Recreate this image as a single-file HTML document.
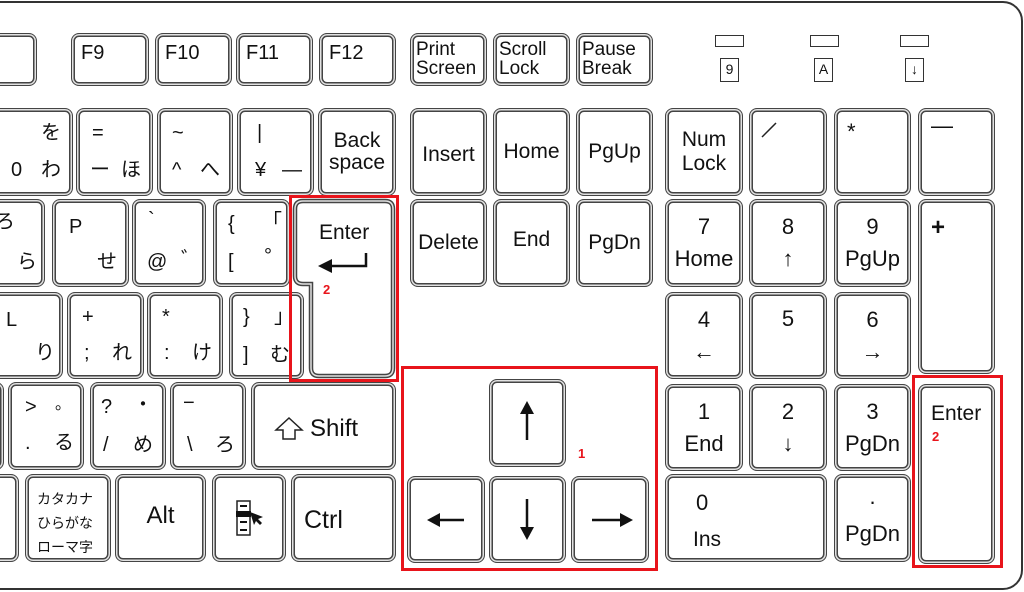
<!DOCTYPE html>
<html><head><meta charset="utf-8"><style>
html,body{margin:0;padding:0;background:#fff;}
#w{position:relative;width:1024px;height:592px;overflow:hidden;background:#fff;font-family:"Liberation Sans","Noto Sans CJK JP",sans-serif;color:#111;}
.frame{position:absolute;left:-30px;top:1px;width:1049px;height:585px;border:2px solid #333;border-radius:20px;}
.k{position:absolute;box-sizing:border-box;border:1.5px solid #444;border-radius:8px;background:#fff;box-shadow:inset 0 0 0 1.5px #e2e2e2,inset 0 0 0 3px #444;}
.c{display:flex;align-items:center;justify-content:center;flex-direction:column;text-align:center;line-height:1.15;}
.t{position:absolute;font-size:20px;line-height:1;white-space:nowrap;}
.red{position:absolute;box-sizing:border-box;border:3.5px solid #e8141b;}
.lab{position:absolute;color:#e8141b;font-weight:bold;font-size:13px;}
.led{position:absolute;box-sizing:border-box;border:1.5px solid #333;height:12px;width:29px;}
.lb{position:absolute;box-sizing:border-box;border:1.5px solid #333;width:19px;height:24px;font-size:14px;text-align:center;line-height:21px;}
</style></head><body><div id="w">
<div class="frame"></div>

<!-- F row -->
<div class="k" style="left:-20px;top:33px;width:57px;height:53px"></div>
<div class="k" style="left:71px;top:33px;width:78px;height:53px"><span class="t" style="left:9px;top:9px">F9</span></div>
<div class="k" style="left:155px;top:33px;width:77px;height:53px"><span class="t" style="left:9px;top:9px">F10</span></div>
<div class="k" style="left:236px;top:33px;width:77px;height:53px"><span class="t" style="left:9px;top:9px">F11</span></div>
<div class="k" style="left:319px;top:33px;width:77px;height:53px"><span class="t" style="left:9px;top:9px">F12</span></div>
<div class="k" style="left:410px;top:33px;width:77px;height:53px"><span class="t" style="left:5px;top:6px;font-size:19px;line-height:19px">Print<br>Screen</span></div>
<div class="k" style="left:493px;top:33px;width:77px;height:53px"><span class="t" style="left:5px;top:6px;font-size:19px;line-height:19px">Scroll<br>Lock</span></div>
<div class="k" style="left:576px;top:33px;width:77px;height:53px"><span class="t" style="left:5px;top:6px;font-size:19px;line-height:19px">Pause<br>Break</span></div>

<!-- LEDs -->
<div class="led" style="left:715px;top:35px"></div><div class="lb" style="left:720px;top:58px">9</div>
<div class="led" style="left:810px;top:35px"></div><div class="lb" style="left:814px;top:58px">A</div>
<div class="led" style="left:900px;top:35px"></div><div class="lb" style="left:905px;top:58px">↓</div>

<!-- number row -->
<div class="k" style="left:-20px;top:108px;width:93px;height:88px"><span class="t" style="left:60px;top:14px">を</span><span class="t" style="left:30px;top:51px">0</span><span class="t" style="left:60px;top:51px">わ</span></div>
<div class="k" style="left:76px;top:108px;width:77px;height:88px"><span class="t" style="left:15px;top:14px">=</span><span class="t" style="left:13px;top:51px">ー</span><span class="t" style="left:44px;top:51px">ほ</span></div>
<div class="k" style="left:157px;top:108px;width:76px;height:88px"><span class="t" style="left:14px;top:14px">~</span><span class="t" style="left:14px;top:51px">^</span><span class="t" style="left:42px;top:51px">へ</span></div>
<div class="k" style="left:237px;top:108px;width:77px;height:88px"><span class="t" style="left:19px;top:14px">|</span><span class="t" style="left:17px;top:51px">¥</span><span class="t" style="left:44px;top:51px">—</span></div>
<div class="k c" style="left:318px;top:108px;width:78px;height:88px;font-size:21px;line-height:22px">Back<br>space</div>
<div class="k c" style="left:410px;top:108px;width:77px;height:88px;font-size:21px;padding-top:6px">Insert</div>
<div class="k c" style="left:493px;top:108px;width:77px;height:88px;font-size:21px">Home</div>
<div class="k c" style="left:576px;top:108px;width:77px;height:88px;font-size:21px">PgUp</div>
<div class="k c" style="left:665px;top:108px;width:78px;height:88px;font-size:21px;line-height:24px">Num<br>Lock</div>
<div class="k" style="left:749px;top:108px;width:78px;height:88px"><svg style="position:absolute;left:10px;top:10px" width="20" height="20"><line x1="2" y1="18" x2="16" y2="4" stroke="#222" stroke-width="1.5"/></svg></div>
<div class="k" style="left:834px;top:108px;width:77px;height:88px"><span class="t" style="left:12px;top:12px;font-size:22px">*</span></div>
<div class="k" style="left:918px;top:108px;width:77px;height:88px"><span class="t" style="left:12px;top:6px;font-size:22px">—</span></div>

<!-- row 2 -->
<div class="k" style="left:-20px;top:199px;width:65px;height:88px"><span class="t" style="left:36px;top:52px">ら</span><span class="t" style="left:14px;top:12px">ろ</span></div>
<div class="k" style="left:52px;top:199px;width:77px;height:88px"><span class="t" style="left:16px;top:17px">P</span><span class="t" style="left:44px;top:52px">せ</span></div>
<div class="k" style="left:132px;top:199px;width:74px;height:88px"><span class="t" style="left:15px;top:10px">`</span><span class="t" style="left:14px;top:52px">@</span><span class="t" style="left:48px;top:50px">゛</span></div>
<div class="k" style="left:213px;top:199px;width:77px;height:88px"><span class="t" style="left:14px;top:14px">{</span><span class="t" style="left:48px;top:12px">「</span><span class="t" style="left:14px;top:52px">[</span><span class="t" style="left:50px;top:46px">°</span></div>
<div class="k c" style="left:410px;top:199px;width:77px;height:88px;font-size:21px">Delete</div>
<div class="k c" style="left:493px;top:199px;width:77px;height:88px;font-size:21px;padding-bottom:6px">End</div>
<div class="k c" style="left:576px;top:199px;width:77px;height:88px;font-size:21px">PgDn</div>
<div class="k c" style="left:665px;top:199px;width:78px;height:88px;font-size:22px;line-height:32px">7<br>Home</div>
<div class="k c" style="left:749px;top:199px;width:78px;height:88px;font-size:22px;line-height:32px">8<br>↑</div>
<div class="k c" style="left:834px;top:199px;width:77px;height:88px;font-size:22px;line-height:32px">9<br>PgUp</div>
<div class="k" style="left:918px;top:199px;width:77px;height:175px"><span class="t" style="left:12px;top:16px;font-size:24px;font-weight:bold">+</span></div>

<!-- Enter L -->
<svg style="position:absolute;left:0;top:0" width="1024" height="592">
<path d="M303,201 L385,201 Q393,201 393,209 L393,368 Q393,376 385,376 L319,376 Q311,376 311,368 L311,284 L303,284 Q295,284 295,276 L295,209 Q295,201 303,201 Z" fill="#fff" stroke="#444" stroke-width="4.5"/>
<path d="M303,201 L385,201 Q393,201 393,209 L393,368 Q393,376 385,376 L319,376 Q311,376 311,368 L311,284 L303,284 Q295,284 295,276 L295,209 Q295,201 303,201 Z" fill="none" stroke="#e2e2e2" stroke-width="1.5"/>
<polyline points="366,253 366,266 330,266" fill="none" stroke="#111" stroke-width="2.5"/>
<polygon points="318,266 332,259 332,273" fill="#111"/>
</svg>
<span class="t" style="left:319px;top:222px;font-size:21px">Enter</span>

<!-- row 3 -->
<div class="k" style="left:-20px;top:292px;width:83px;height:87px"><span class="t" style="left:25px;top:17px">L</span><span class="t" style="left:54px;top:50px">り</span></div>
<div class="k" style="left:67px;top:292px;width:77px;height:87px"><span class="t" style="left:14px;top:14px">+</span><span class="t" style="left:16px;top:50px">;</span><span class="t" style="left:44px;top:50px">れ</span></div>
<div class="k" style="left:147px;top:292px;width:76px;height:87px"><span class="t" style="left:14px;top:14px">*</span><span class="t" style="left:16px;top:50px">:</span><span class="t" style="left:44px;top:50px">け</span></div>
<div class="k" style="left:229px;top:292px;width:75px;height:87px"><span class="t" style="left:13px;top:14px">}</span><span class="t" style="left:44px;top:14px">」</span><span class="t" style="left:13px;top:52px">]</span><span class="t" style="left:40px;top:52px">む</span></div>
<div class="k c" style="left:665px;top:292px;width:78px;height:87px;font-size:22px;line-height:32px">4<br>←</div>
<div class="k c" style="left:749px;top:292px;width:78px;height:87px;font-size:22px;padding-bottom:34px">5</div>
<div class="k c" style="left:834px;top:292px;width:77px;height:87px;font-size:22px;line-height:32px">6<br>→</div>

<!-- row 4 -->
<div class="k" style="left:-20px;top:382px;width:24px;height:88px"></div>
<div class="k" style="left:8px;top:382px;width:76px;height:88px"><span class="t" style="left:16px;top:14px">&gt;</span><span class="t" style="left:46px;top:14px;font-size:16px">。</span><span class="t" style="left:16px;top:50px">.</span><span class="t" style="left:45px;top:50px">る</span></div>
<div class="k" style="left:90px;top:382px;width:76px;height:88px"><span class="t" style="left:10px;top:14px">?</span><span class="t" style="left:42px;top:12px">・</span><span class="t" style="left:12px;top:52px">/</span><span class="t" style="left:42px;top:52px">め</span></div>
<div class="k" style="left:170px;top:382px;width:76px;height:88px"><span class="t" style="left:12px;top:10px">−</span><span class="t" style="left:16px;top:52px">\</span><span class="t" style="left:44px;top:52px">ろ</span></div>
<div class="k" style="left:251px;top:382px;width:145px;height:88px"><svg style="position:absolute;left:22px;top:33px" width="30" height="26"><path d="M15,2 L28,14 L21,14 L21,23 L9,23 L9,14 L2,14 Z" fill="none" stroke="#222" stroke-width="1.5"/></svg><span class="t" style="left:58px;top:34px;font-size:24px">Shift</span></div>
<div class="k" style="left:489px;top:379px;width:77px;height:88px"><svg style="position:absolute;left:25px;top:20px" width="24" height="45"><line x1="12" y1="40" x2="12" y2="12" stroke="#111" stroke-width="2.5"/><polygon points="12,1 5,14 19,14" fill="#111"/></svg></div>
<div class="k c" style="left:665px;top:384px;width:78px;height:87px;font-size:22px;line-height:32px">1<br>End</div>
<div class="k c" style="left:749px;top:384px;width:78px;height:87px;font-size:22px;line-height:32px">2<br>↓</div>
<div class="k c" style="left:834px;top:384px;width:77px;height:87px;font-size:22px;line-height:32px">3<br>PgDn</div>
<div class="k" style="left:918px;top:384px;width:77px;height:180px"><span class="t" style="left:12px;top:18px;font-size:21px">Enter</span></div>

<!-- row 5 -->
<div class="k" style="left:-20px;top:474px;width:39px;height:88px"></div>
<div class="k" style="left:25px;top:474px;width:86px;height:88px"><span class="t" style="left:11px;top:12px;font-size:14px;line-height:24px">カタカナ<br>ひらがな<br>ローマ字</span></div>
<div class="k c" style="left:115px;top:474px;width:91px;height:88px;font-size:24px;padding-bottom:4px">Alt</div>
<div class="k" style="left:212px;top:474px;width:74px;height:88px"><svg style="position:absolute;left:22px;top:24px" width="32" height="38"><rect x="2" y="2" width="13" height="34" fill="#fff" stroke="#222" stroke-width="1.5"/><line x1="5" y1="7" x2="12" y2="7" stroke="#111" stroke-width="2"/><rect x="1" y="12" width="15" height="6" fill="#111"/><line x1="5" y1="23" x2="12" y2="23" stroke="#111" stroke-width="2"/><line x1="5" y1="31" x2="12" y2="31" stroke="#111" stroke-width="2"/><polygon points="15,13 28,18 23,20 27,24 25,26 21,22 19,26" fill="#111"/></svg></div>
<div class="k" style="left:291px;top:474px;width:105px;height:88px"><span class="t" style="left:12px;top:33px;font-size:25px">Ctrl</span></div>
<div class="k" style="left:407px;top:476px;width:78px;height:87px"><svg style="position:absolute;left:18px;top:32px" width="45" height="22"><line x1="10" y1="11" x2="38" y2="11" stroke="#111" stroke-width="2.5"/><polygon points="1,11 14,4 14,18" fill="#111"/></svg></div>
<div class="k" style="left:489px;top:476px;width:77px;height:87px"><svg style="position:absolute;left:25px;top:20px" width="24" height="45"><line x1="12" y1="2" x2="12" y2="32" stroke="#111" stroke-width="2.5"/><polygon points="12,43 5,30 19,30" fill="#111"/></svg></div>
<div class="k" style="left:571px;top:476px;width:78px;height:87px"><svg style="position:absolute;left:18px;top:32px" width="45" height="22"><line x1="2" y1="11" x2="32" y2="11" stroke="#111" stroke-width="2.5"/><polygon points="43,11 30,4 30,18" fill="#111"/></svg></div>
<div class="k" style="left:665px;top:474px;width:162px;height:88px"><span class="t" style="left:30px;top:17px;font-size:22px">0</span><span class="t" style="left:27px;top:54px;font-size:21px">Ins</span></div>
<div class="k c" style="left:834px;top:474px;width:77px;height:88px;font-size:22px;line-height:32px">·<br>PgDn</div>

<!-- red highlights -->
<div class="red" style="left:289px;top:195px;width:110px;height:187px"></div>
<div class="red" style="left:401px;top:366px;width:257px;height:205px"></div>
<div class="red" style="left:912px;top:375px;width:91px;height:193px"></div>
<span class="lab" style="left:323px;top:282px">2</span>
<span class="lab" style="left:578px;top:446px">1</span>
<span class="lab" style="left:932px;top:429px">2</span>
</div></body></html>
